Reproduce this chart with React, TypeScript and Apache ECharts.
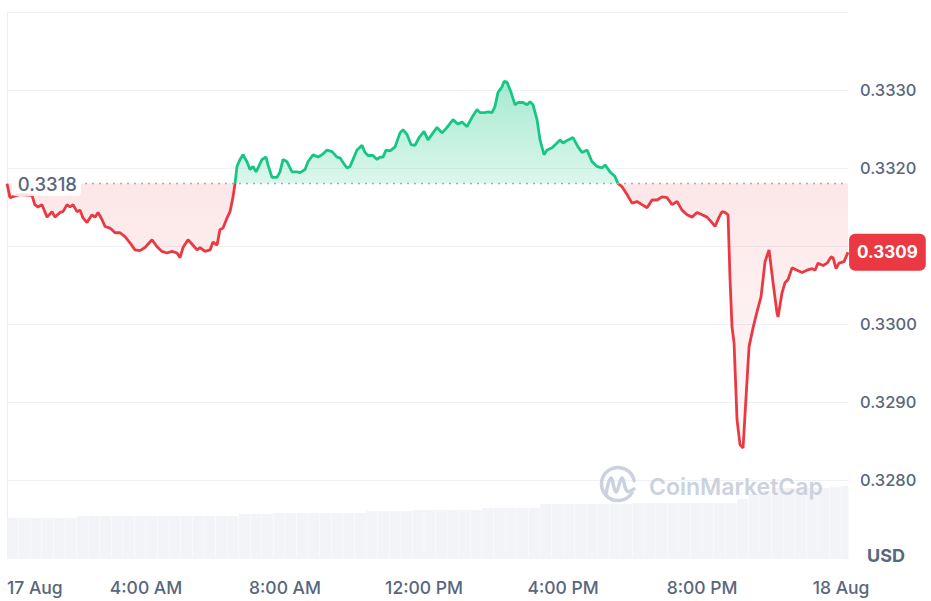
import React, { useEffect, useRef } from 'react';
import * as echarts from 'echarts';

// Opening price (baseline)
const BASE_PRICE = 0.3318;
const BASE_LINE_START_HOUR = 2.245; // where the dotted baseline starts (right of its label)

// Time in hours since 17 Aug 00:00
const PRICE_HOURS = [
  0, 0.086, 0.374, 0.72, 0.8, 0.892, 1.007, 1.151, 1.295, 1.381, 1.525, 1.612, 1.727, 1.813, 1.899,
  2.014, 2.101, 2.187, 2.302, 2.446, 2.532, 2.619, 2.734, 2.82, 2.964, 3.108, 3.252, 3.396, 3.54,
  3.683, 3.827, 3.971, 4.173, 4.317, 4.46, 4.604, 4.748, 4.892, 4.978, 5.065, 5.209, 5.353, 5.468,
  5.554, 5.698, 5.842, 5.928, 6.043, 6.129, 6.216, 6.331, 6.417, 6.504, 6.561, 6.619, 6.705, 6.791,
  6.906, 6.993, 7.079, 7.165, 7.223, 7.338, 7.453, 7.511, 7.626, 7.77, 7.856, 7.942, 8.058, 8.201,
  8.345, 8.432, 8.576, 8.662, 8.806, 8.95, 9.065, 9.209, 9.353, 9.496, 9.583, 9.669, 9.784, 9.871,
  9.957, 10.072, 10.216, 10.302, 10.388, 10.532, 10.647, 10.734, 10.82, 10.906, 11.022, 11.165,
  11.309, 11.396, 11.511, 11.626, 11.741, 11.856, 12.0, 12.115, 12.259, 12.374, 12.518, 12.662,
  12.835, 12.978, 13.094, 13.237, 13.381, 13.525, 13.612, 13.755, 13.842, 13.957, 14.043, 14.129,
  14.245, 14.302, 14.388, 14.504, 14.619, 14.705, 14.849, 14.964, 15.05, 15.137, 15.252, 15.338,
  15.453, 15.54, 15.683, 15.827, 15.914, 16.0, 16.144, 16.288, 16.432, 16.547, 16.691, 16.835,
  16.978, 17.122, 17.209, 17.353, 17.496, 17.583, 17.698, 17.842, 17.986, 18.129, 18.273, 18.417,
  18.561, 18.705, 18.849, 18.993, 19.137, 19.281, 19.424, 19.568, 19.712, 19.856, 20.0, 20.144,
  20.288, 20.374, 20.489, 20.576, 20.662, 20.748, 20.806, 20.863, 20.921, 21.007, 21.094, 21.18,
  21.266, 21.353, 21.468, 21.583, 21.698, 21.813, 21.928, 22.043, 22.158, 22.187, 22.302, 22.388,
  22.475, 22.59, 22.734, 22.878, 23.022, 23.165, 23.252, 23.338, 23.482, 23.597, 23.712, 23.77,
  23.856, 23.942, 24.086, 24.201,
];

const PRICE_VALUES = [
  0.3318, 0.33162, 0.33166, 0.33165, 0.33153, 0.3315, 0.33153, 0.33137, 0.33144, 0.33137, 0.33143,
  0.33144, 0.33153, 0.3315, 0.33153, 0.33144, 0.33146, 0.33136, 0.3313, 0.3314, 0.33137, 0.33143,
  0.33134, 0.33125, 0.33123, 0.33117, 0.33117, 0.33112, 0.33104, 0.33095, 0.33094, 0.33098, 0.33108,
  0.33099, 0.33093, 0.33091, 0.33093, 0.33091, 0.33085, 0.33098, 0.33108, 0.33101, 0.33095, 0.33098,
  0.33093, 0.33095, 0.33105, 0.33101, 0.33121, 0.33123, 0.33136, 0.33144, 0.33163, 0.3318, 0.33202,
  0.33211, 0.33217, 0.33208, 0.33198, 0.33202, 0.33195, 0.332, 0.33211, 0.33214, 0.33204, 0.33188,
  0.33188, 0.33195, 0.33211, 0.33208, 0.33195, 0.33195, 0.33194, 0.33198, 0.33208, 0.33217, 0.33214,
  0.33217, 0.33223, 0.33221, 0.33214, 0.33213, 0.33207, 0.332, 0.33202, 0.33211, 0.33223, 0.33229,
  0.3322, 0.33216, 0.33216, 0.33211, 0.33214, 0.33214, 0.33223, 0.33222, 0.33227, 0.33245, 0.33249,
  0.33243, 0.3323, 0.33229, 0.33239, 0.33247, 0.33236, 0.33245, 0.33252, 0.33245, 0.33252, 0.33262,
  0.33256, 0.33259, 0.33253, 0.33265, 0.33275, 0.33271, 0.33271, 0.33272, 0.33271, 0.33279, 0.33297,
  0.33304, 0.33311, 0.3331, 0.33297, 0.33281, 0.33284, 0.33284, 0.33281, 0.33285, 0.33281, 0.33262,
  0.33236, 0.33217, 0.33223, 0.33226, 0.33232, 0.33236, 0.33232, 0.33236, 0.33239, 0.33227, 0.3322,
  0.33223, 0.33208, 0.33202, 0.332, 0.33204, 0.33195, 0.33189, 0.3318, 0.33176, 0.33166, 0.33155,
  0.33157, 0.33153, 0.33149, 0.33159, 0.33159, 0.33163, 0.33162, 0.33153, 0.33157, 0.33146, 0.3314,
  0.33137, 0.33143, 0.3314, 0.33137, 0.3313, 0.33125, 0.33137, 0.33144, 0.33143, 0.3314, 0.33057,
  0.32996, 0.32976, 0.32877, 0.32845, 0.32841, 0.32906, 0.32971, 0.32995, 0.33016, 0.33035, 0.3308,
  0.33095, 0.33053, 0.33014, 0.33009, 0.3304, 0.33053, 0.33057, 0.33072, 0.33069, 0.33066, 0.33069,
  0.33071, 0.33069, 0.33078, 0.33075, 0.33078, 0.33086, 0.33085, 0.33071, 0.33078, 0.3308, 0.33092,
];

// Relative volume, one value per 20-minute bucket from 17 Aug 00:00
const VOLUME_BUCKET_HOURS = 1 / 3;
const VOLUME_VALUES = [
  41, 41, 41, 41, 41, 41,
  43, 43, 43, 43, 43, 43, 43, 43, 43, 43, 43, 43, 43, 43,
  45, 45, 45,
  46, 46, 46, 46, 46, 46, 46, 46,
  48, 48, 48, 48,
  49, 49, 49, 49, 49, 49,
  51, 51, 51, 51, 51,
  55, 55, 55, 55, 55, 55, 55, 55,
  56, 56, 56, 56, 56, 56, 56, 56, 56,
  60, 65, 68,
  71, 71, 71, 71, 71,
  72, 73,
];

const X_TICK_HOURS = [0, 4, 8, 12, 16, 20, 24];
const X_TICK_LABELS = ['17 Aug', '4:00 AM', '8:00 AM', '12:00 PM', '4:00 PM', '8:00 PM', '18 Aug'];

const Y_MIN = 0.327;
const Y_MAX = 0.334;
const Y_STEP = 0.001;
const X_MAX = 24.2;

const GREEN = '#16c784';
const RED = '#ea3943';
const GRAY_TEXT = '#58667e';

export default function App() {
  const ref = useRef<HTMLDivElement>(null);

  useEffect(() => {
    if (!ref.current) return;
    const chart = echarts.init(ref.current, null, { renderer: 'svg' });

    const price = PRICE_HOURS.map((h, i) => [h, PRICE_VALUES[i]]);
    const upArea = PRICE_HOURS.map((h, i) => [h, Math.max(PRICE_VALUES[i], BASE_PRICE)]);
    const downArea = PRICE_HOURS.map((h, i) => [h, Math.min(PRICE_VALUES[i], BASE_PRICE)]);
    const volume = VOLUME_VALUES.map((v, i) => [(i + 0.5) * VOLUME_BUCKET_HOURS, v]);
    const lastPrice = PRICE_VALUES[PRICE_VALUES.length - 1];
    const lastHour = PRICE_HOURS[PRICE_HOURS.length - 1];

    const wm = '#cbd2de';

    const option: any = {
      animation: false,
      textStyle: { fontFamily: 'Inter, sans-serif' },
      grid: [
        { left: 7, right: 83, top: 12, bottom: 43 },
        { left: 7, right: 83, height: 100, bottom: 42 },
      ],
      xAxis: [
        {
          type: 'value',
          gridIndex: 0,
          min: 0,
          max: X_MAX,
          interval: 4,
          axisLine: { show: false, onZero: false },
          axisTick: { show: false },
          splitLine: { show: false },
          axisLabel: {
            color: GRAY_TEXT,
            fontSize: 17.5,
            fontWeight: 500,
            margin: 20,
            alignMinLabel: 'left',
            formatter: (v: number) => {
              const i = X_TICK_HOURS.findIndex((t) => Math.abs(t - v) < 1e-6);
              return i >= 0 ? X_TICK_LABELS[i] : '';
            },
          },
        },
        { type: 'value', gridIndex: 1, min: 0, max: X_MAX, show: false },
      ],
      yAxis: [
        {
          type: 'value',
          gridIndex: 0,
          position: 'right',
          min: Y_MIN,
          max: Y_MAX,
          interval: Y_STEP,
          axisLine: { show: false, onZero: false },
          axisTick: { show: false },
          splitLine: { show: true, lineStyle: { color: '#eff2f5', width: 1 } },
          axisLabel: {
            color: GRAY_TEXT,
            fontSize: 16.5,
            fontWeight: 500,
            margin: 12,
            // the ends are not labelled, and the tick under the last-price tag is covered by it
            formatter: (v: number) =>
              Math.abs(v - Y_MIN) < 1e-7 || Math.abs(v - Y_MAX) < 1e-7 || Math.abs(v - lastPrice) < 0.0003
                ? ''
                : v.toFixed(4),
          },
        },
        {
          type: 'value',
          gridIndex: 0,
          position: 'left',
          min: 0,
          max: 1,
          axisLine: { show: true, onZero: false, lineStyle: { color: '#e9ecf1', width: 1 } },
          axisTick: { show: false },
          axisLabel: { show: false },
          splitLine: { show: false },
        },
        { type: 'value', gridIndex: 1, min: 0, max: 100, show: false },
      ],
      visualMap: {
        type: 'piecewise',
        show: false,
        seriesIndex: 2,
        dimension: 1,
        pieces: [
          { gte: Y_MIN, lte: BASE_PRICE, color: RED },
          { gt: BASE_PRICE, lte: Y_MAX, color: GREEN },
        ],
        outOfRange: { color: RED },
      },
      series: [
        {
          type: 'line',
          xAxisIndex: 0,
          yAxisIndex: 0,
          data: upArea,
          showSymbol: false,
          silent: true,
          lineStyle: { width: 0, opacity: 0 },
          areaStyle: {
            origin: BASE_PRICE,
            opacity: 1,
            color: new echarts.graphic.LinearGradient(0, 0, 0, 1, [
              { offset: 0, color: 'rgba(22,199,132,0.38)' },
              { offset: 1, color: 'rgba(22,199,132,0.15)' },
            ]),
          },
          z: 1,
        },
        {
          type: 'line',
          xAxisIndex: 0,
          yAxisIndex: 0,
          data: downArea,
          showSymbol: false,
          silent: true,
          lineStyle: { width: 0, opacity: 0 },
          areaStyle: {
            origin: BASE_PRICE,
            opacity: 1,
            color: new echarts.graphic.LinearGradient(0, 0, 0, 1, [
              { offset: 0, color: 'rgba(234,57,67,0.12)' },
              { offset: 1, color: 'rgba(234,57,67,0.03)' },
            ]),
          },
          z: 1,
        },
        {
          type: 'line',
          xAxisIndex: 0,
          yAxisIndex: 0,
          data: price,
          showSymbol: false,
          lineStyle: { width: 2.8 },
          z: 3,
        },
        {
          // dotted baseline at the opening price, with its label
          type: 'line',
          xAxisIndex: 0,
          yAxisIndex: 0,
          silent: true,
          clip: false,
          z: 4,
          symbol: 'circle',
          symbolSize: 0.1,
          showSymbol: true,
          itemStyle: { color: 'rgba(0,0,0,0)' },
          lineStyle: { color: '#a3acbd', type: [2, 5], width: 1.5 },
          data: [
            {
              value: [BASE_LINE_START_HOUR, BASE_PRICE],
              label: {
                show: true,
                position: 'left',
                distance: 4,
                formatter: BASE_PRICE.toFixed(4),
                color: GRAY_TEXT,
                fontSize: 18.5,
                fontWeight: 500,
                backgroundColor: 'rgba(255,255,255,0.85)',
                padding: [4, 4, 2, 6],
                borderRadius: 4,
              },
            },
            { value: [X_MAX, BASE_PRICE] },
          ],
        },
        {
          // last price tag at the right edge
          type: 'line',
          xAxisIndex: 0,
          yAxisIndex: 0,
          silent: true,
          clip: false,
          z: 6,
          symbol: 'circle',
          symbolSize: 0.1,
          showSymbol: true,
          itemStyle: { color: 'rgba(0,0,0,0)' },
          lineStyle: { width: 0, opacity: 0 },
          data: [
            {
              value: [Math.max(lastHour, X_MAX), lastPrice],
              label: {
                show: true,
                position: 'right',
                distance: 1,
                formatter: lastPrice.toFixed(4),
                color: '#ffffff',
                fontSize: 17,
                fontWeight: 'bold',
                backgroundColor: RED,
                padding: [10, 8, 10, 8],
                borderRadius: 6,
              },
            },
          ],
        },
        {
          type: 'bar',
          xAxisIndex: 1,
          yAxisIndex: 2,
          data: volume,
          barWidth: 11.2,
          silent: true,
          clip: true,
          itemStyle: { color: '#f2f4f7' },
          z: 0,
        },
      ],
      graphic: [
        {
          // keeps the last volume bucket inside the plot's right edge
          type: 'rect',
          z: 1,
          silent: true,
          shape: { x: 848.5, y: 470, width: 12, height: 95 },
          style: { fill: '#ffffff' },
        },
        {
          type: 'text',
          x: 867,
          y: 555,
          style: { text: 'USD', fill: GRAY_TEXT, font: 'bold 18px Inter', verticalAlign: 'middle' },
        },
        {
          type: 'group',
          silent: true,
          z: 10,
          children: [
            {
              type: 'arc',
              z: 10,
              shape: { cx: 618, cy: 484, r: 16.5, startAngle: 0.55, endAngle: 0.55 + Math.PI * 2 - 0.75, clockwise: true },
              style: { stroke: wm, lineWidth: 3.5, fill: 'none', lineCap: 'round' },
            },
            {
              type: 'polyline',
              z: 10,
              shape: {
                points: [[606, 494], [611, 478], [616, 492], [622, 478], [627, 491], [634, 489]],
                smooth: 0.4,
              },
              style: { stroke: wm, lineWidth: 3.5, fill: 'none', lineCap: 'round', lineJoin: 'round' },
            },
            {
              type: 'text',
              z: 10,
              x: 649,
              y: 487,
              style: { text: 'CoinMarketCap', fill: wm, font: '600 23px Inter', verticalAlign: 'middle' },
            },
          ],
        },
      ],
    };

    chart.setOption(option);
    return () => chart.dispose();
  }, []);

  return <div ref={ref} style={{ position: 'fixed', left: 0, top: 0, width: 931, height: 601, background: '#fff' }} />;
}
